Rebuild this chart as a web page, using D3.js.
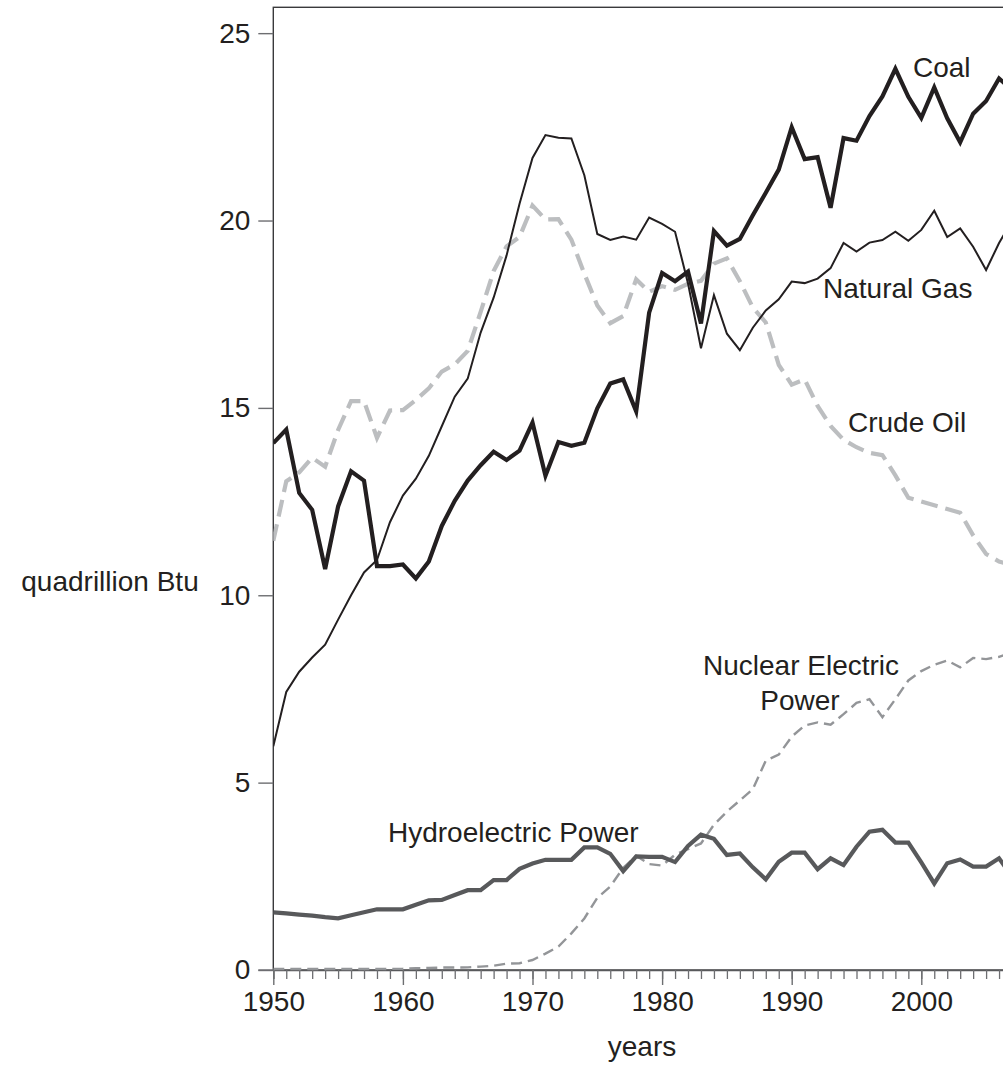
<!DOCTYPE html>
<html>
<head>
<meta charset="utf-8">
<script src="https://cdn.jsdelivr.net/npm/d3@7"></script>
<style>
  body { margin: 0; background: #fff; }
  text { font-family: "Liberation Sans", Arial, Helvetica, sans-serif; fill: #231f20; }
</style>
</head>
<body>
<div id="chart"></div>
<script>
// years 1950..2007, values in quadrillion Btu
var years = d3.range(1950, 2008);

var coal = [14.06, 14.42, 12.73, 12.28, 10.70, 12.37, 13.31, 13.06, 10.78, 10.78,
            10.82, 10.45, 10.90, 11.85, 12.52, 13.06, 13.47, 13.83, 13.61, 13.86,
            14.61, 13.19, 14.09, 13.99, 14.07, 14.99, 15.65, 15.76, 14.91, 17.54,
            18.60, 18.38, 18.64, 17.25, 19.72, 19.33, 19.51, 20.14, 20.74, 21.36,
            22.49, 21.64, 21.69, 20.34, 22.20, 22.13, 22.79, 23.31, 24.05, 23.30,
            22.74, 23.55, 22.73, 22.09, 22.85, 23.19, 23.79, 23.49];

var naturalGas = [5.97, 7.42, 7.96, 8.34, 8.68, 9.35, 10.00, 10.61, 10.94, 11.95,
                  12.66, 13.11, 13.72, 14.51, 15.30, 15.78, 17.01, 17.94, 19.07, 20.45,
                  21.67, 22.28, 22.21, 22.19, 21.21, 19.64, 19.48, 19.57, 19.49, 20.08,
                  19.91, 19.70, 18.32, 16.59, 18.01, 16.98, 16.54, 17.14, 17.60, 17.90,
                  18.37, 18.33, 18.45, 18.73, 19.40, 19.17, 19.41, 19.48, 19.70, 19.46,
                  19.75, 20.26, 19.56, 19.79, 19.30, 18.68, 19.40, 20.00];

var crudeOil = [11.45, 13.04, 13.28, 13.67, 13.43, 14.41, 15.18, 15.18, 14.20, 14.93,
                14.94, 15.21, 15.52, 15.97, 16.16, 16.52, 17.56, 18.65, 19.31, 19.56,
                20.40, 20.03, 20.04, 19.49, 18.58, 17.73, 17.26, 17.45, 18.43, 18.10,
                18.25, 18.15, 18.31, 18.39, 18.85, 18.99, 18.38, 17.68, 17.28, 16.15,
                15.62, 15.76, 15.05, 14.52, 14.15, 13.95, 13.80, 13.74, 13.20, 12.60,
                12.50, 12.40, 12.30, 12.20, 11.60, 11.10, 10.90, 10.80];

var nuclear = [0, 0, 0, 0, 0, 0, 0, 0, 0.002, 0.002,
               0.006, 0.02, 0.026, 0.038, 0.04, 0.043, 0.064, 0.088, 0.142, 0.154,
               0.24, 0.41, 0.60, 0.95, 1.35, 1.90, 2.20, 2.70, 3.02, 2.80,
               2.76, 3.05, 3.20, 3.35, 3.85, 4.20, 4.50, 4.80, 5.56, 5.72,
               6.20, 6.50, 6.58, 6.52, 6.80, 7.10, 7.20, 6.72, 7.20, 7.70,
               7.95, 8.12, 8.23, 8.05, 8.30, 8.27, 8.33, 8.45];

var hydro = [1.54, 1.51, 1.48, 1.45, 1.41, 1.38, 1.46, 1.54, 1.62, 1.62,
             1.62, 1.74, 1.86, 1.87, 2.00, 2.13, 2.13, 2.40, 2.40, 2.70,
             2.84, 2.94, 2.94, 2.94, 3.27, 3.27, 3.10, 2.64, 3.03, 3.02,
             3.02, 2.88, 3.31, 3.61, 3.50, 3.07, 3.11, 2.74, 2.42, 2.89,
             3.13, 3.13, 2.69, 2.98, 2.80, 3.29, 3.69, 3.74, 3.40, 3.40,
             2.87, 2.31, 2.85, 2.95, 2.76, 2.76, 2.98, 2.50];

var yTicks = [0, 5, 10, 15, 20, 25];
var xTicks = [1950, 1960, 1970, 1980, 1990, 2000];

var width = 1003, height = 1070;

var svg = d3.select("#chart")
    .append("svg")
    .attr("width", width)
    .attr("height", height);

// scales: 1950 at x=273, 10 years ~ 129.6px; the frame goes past the right edge
var x = d3.scaleLinear()
    .domain([1950, 2008])
    .range([273.3, 273.3 + 58 * 12.96]);
var y = d3.scaleLinear()
    .domain([0, 25.69])
    .range([970, 7.3]);

// frame
svg.append("rect")
    .attr("x", x(1950))
    .attr("y", y(25.69))
    .attr("width", x(2008) - x(1950))
    .attr("height", y(0) - y(25.69))
    .attr("fill", "none")
    .attr("stroke", "#3a3a3c")
    .attr("stroke-width", 1.4);

// y axis
var yAxis = svg.append("g")
    .attr("transform", "translate(" + x(1950) + ",0)")
    .call(d3.axisLeft(y).tickValues(yTicks).tickSize(15).tickPadding(8).tickFormat(d3.format("d")));
yAxis.select(".domain").remove();
yAxis.selectAll(".tick line").attr("stroke", "#6d6e71").attr("stroke-width", 1.4);
yAxis.selectAll(".tick text")
    .attr("font-size", "28px")
    .attr("fill", "#231f20")
    .style("font-family", "'Liberation Sans', Arial, sans-serif");

// x axis: yearly minor ticks, decade major ticks
var xMinor = svg.append("g")
    .attr("transform", "translate(0," + y(0) + ")")
    .call(d3.axisBottom(x).tickValues(d3.range(1950, 2008)).tickSize(9).tickFormat(""));
xMinor.select(".domain").attr("stroke", "#58595b").attr("stroke-width", 1.3);
xMinor.selectAll(".tick line").attr("stroke", "#6d6e71").attr("stroke-width", 1.3);

var xAxis = svg.append("g")
    .attr("transform", "translate(0," + y(0) + ")")
    .call(d3.axisBottom(x).tickValues(xTicks).tickSize(15).tickPadding(6).tickFormat(d3.format("d")));
xAxis.select(".domain").remove();
xAxis.selectAll(".tick line").attr("stroke", "#6d6e71").attr("stroke-width", 1.4);
xAxis.selectAll(".tick text")
    .attr("font-size", "28px")
    .attr("fill", "#231f20")
    .style("font-family", "'Liberation Sans', Arial, sans-serif");

// zero tick on the y side
svg.append("line")
    .attr("x1", x(1950) - 15).attr("x2", x(1950))
    .attr("y1", y(0)).attr("y2", y(0))
    .attr("stroke", "#6d6e71").attr("stroke-width", 1.4);

// axis labels
svg.append("text")
    .attr("x", 642)
    .attr("y", 1056)
    .attr("text-anchor", "middle")
    .attr("font-size", "28px")
    .text("years");

svg.append("text")
    .attr("x", 110)
    .attr("y", 591)
    .attr("text-anchor", "middle")
    .attr("font-size", "28px")
    .text("quadrillion Btu");

// series
var series = [
    {name: "nuclear", values: nuclear, color: "#939598", width: 2.4, dash: "11,6"},
    {name: "crude", values: crudeOil, color: "#bcbec0", width: 4.2, dash: "17,8"},
    {name: "hydro", values: hydro, color: "#58595b", width: 4.2, dash: null},
    {name: "gas", values: naturalGas, color: "#231f20", width: 2, dash: null},
    {name: "coal", values: coal, color: "#231f20", width: 4.2, dash: null}
];

var line = d3.line()
    .x(function (d) { return x(d[0]); })
    .y(function (d) { return y(d[1]); });

// clip to the plot, leaving a little room below zero so the flat nuclear dashes show
svg.append("clipPath").attr("id", "plotclip")
    .append("rect")
    .attr("x", x(1950)).attr("y", y(25.69))
    .attr("width", x(2008) - x(1950)).attr("height", y(0) - y(25.69) + 3);

var lines = svg.append("g").attr("clip-path", "url(#plotclip)");

series.forEach(function (s) {
    var pts = years.map(function (yr, i) { return [yr, s.values[i]]; });
    lines.append("path")
        .datum(pts)
        .attr("d", line)
        .attr("fill", "none")
        .attr("stroke", s.color)
        .attr("stroke-width", s.width)
        .attr("stroke-dasharray", s.dash)
        .attr("stroke-linejoin", "miter")
        .attr("transform", s.name === "nuclear" ? "translate(0,-1)" : null);
});

// series labels
var labels = [
    {t: "Coal", x: 913, y: 77, a: "start"},
    {t: "Natural Gas", x: 823, y: 298, a: "start"},
    {t: "Crude Oil", x: 848, y: 432, a: "start"},
    {t: "Nuclear Electric", x: 801, y: 675, a: "middle"},
    {t: "Power", x: 800, y: 710, a: "middle"},
    {t: "Hydroelectric Power", x: 388, y: 842, a: "start"}
];
svg.selectAll(".lbl")
    .data(labels)
    .enter()
    .append("text")
    .attr("class", "lbl")
    .attr("x", function (d) { return d.x; })
    .attr("y", function (d) { return d.y; })
    .attr("text-anchor", function (d) { return d.a; })
    .attr("font-size", "28px")
    .text(function (d) { return d.t; });
</script>
</body>
</html>
